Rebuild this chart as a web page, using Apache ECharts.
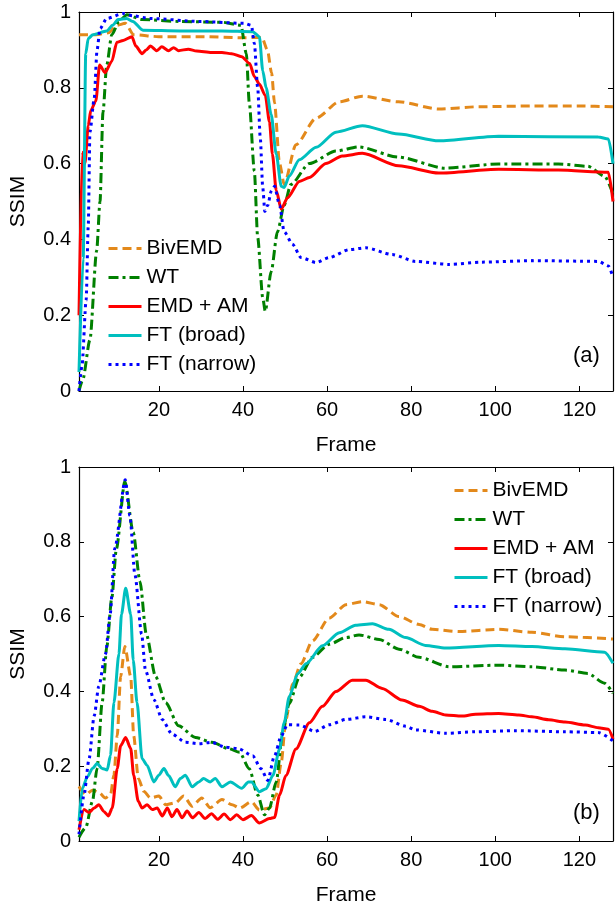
<!DOCTYPE html>
<html>
<head>
<meta charset="utf-8">
<script src="https://cdn.jsdelivr.net/npm/echarts@6/dist/echarts.min.js"></script>
<style>
  html, body { margin: 0; padding: 0; background: #fff; }
  #chart { width: 615px; height: 907px; }
</style>
</head>
<body>
<div id="chart"></div>
<script>
// ---- data, panel (a) ----
const seriesNames = ['BivEMD', 'WT', 'EMD + AM', 'FT (broad)', 'FT (narrow)']
const frameTicks = [20, 40, 60, 80, 100, 120]

const aBivFrames = [1, 5, 8, 10, 12, 14, 20, 30, 40, 44.5, 45.8, 46.8, 47.5, 48.7, 49.8, 52.6, 57.4, 62.9, 68.4, 77, 86.6, 96, 108.7, 120, 128]
const aBivSsim = [0.94, 0.94, 0.945, 0.965, 0.97, 0.94, 0.935, 0.935, 0.932, 0.933, 0.9, 0.84, 0.76, 0.6, 0.545, 0.65, 0.72, 0.763, 0.778, 0.763, 0.744, 0.75, 0.752, 0.752, 0.75]

const aWtFrames = [1, 1.9, 3.6, 5.2, 6, 6.7, 7.6, 8.8, 10.5, 12.4, 16, 25, 35, 39.5, 40.8, 41.5, 42.7, 43.5, 44.7, 45.3, 46.7, 48.2, 49.8, 51.4, 55.8, 62.1, 67.5, 77, 88, 100.8, 115, 122, 126, 128]
const aWtSsim = [0, 0.03, 0.135, 0.37, 0.5, 0.735, 0.86, 0.94, 0.975, 0.993, 0.98, 0.975, 0.973, 0.965, 0.89, 0.76, 0.58, 0.405, 0.246, 0.21, 0.315, 0.42, 0.49, 0.545, 0.6, 0.633, 0.644, 0.617, 0.588, 0.599, 0.599, 0.593, 0.567, 0.52]

const aEmdFrames = [1, 1.8, 2.4, 3.2, 3.8, 5, 5.9, 7.2, 8.8, 10, 11.5, 13.6, 14.5, 16, 17, 18, 19.5, 20.7, 22.3, 23.5, 24.7, 27, 29, 32.5, 35, 37.3, 39.7, 41.6, 42.7, 43.9, 45.3, 46.3, 47, 47.9, 49.1, 50.6, 53.4, 55.8, 59.7, 63.6, 68.4, 77, 86.6, 100.8, 115, 126.9, 128]
const aEmdSsim = [0.2, 0.63, 0.6, 0.7, 0.74, 0.765, 0.86, 0.84, 0.87, 0.92, 0.925, 0.935, 0.91, 0.89, 0.9, 0.91, 0.898, 0.908, 0.898, 0.906, 0.898, 0.902, 0.897, 0.893, 0.893, 0.89, 0.882, 0.864, 0.83, 0.81, 0.78, 0.71, 0.625, 0.53, 0.48, 0.51, 0.553, 0.563, 0.6, 0.62, 0.627, 0.594, 0.575, 0.585, 0.583, 0.577, 0.5]

const aBroadFrames = [1, 2, 2.6, 3.2, 4.3, 7.6, 9, 10.3, 12.3, 13.8, 16.2, 25, 35, 42.3, 43.9, 44.7, 45.5, 46.7, 47.9, 49.1, 49.8, 51, 53.4, 57.4, 62.1, 68.4, 77, 86.6, 100.8, 124.5, 126.9, 128]
const aBroadSsim = [0.05, 0.35, 0.89, 0.93, 0.94, 0.95, 0.965, 0.98, 0.983, 0.975, 0.952, 0.95, 0.95, 0.948, 0.935, 0.845, 0.8, 0.73, 0.625, 0.54, 0.537, 0.567, 0.61, 0.643, 0.683, 0.7, 0.678, 0.66, 0.672, 0.67, 0.665, 0.6]

const aNarrowFrames = [1, 1.7, 2.7, 3.2, 3.6, 4.6, 5.3, 6, 7.6, 11.5, 13.8, 17.8, 29.7, 40.4, 42, 42.7, 43.5, 44.1, 44.7, 45.2, 45.9, 46.7, 47.5, 48.7, 49.8, 51.8, 53.8, 57.4, 60.5, 65.3, 69.2, 75.5, 81, 89, 96.8, 108.7, 124.5, 126.9, 128]
const aNarrowSsim = [0, 0.065, 0.24, 0.435, 0.683, 0.77, 0.9, 0.956, 0.983, 0.996, 0.99, 0.983, 0.975, 0.97, 0.965, 0.917, 0.8, 0.67, 0.537, 0.474, 0.49, 0.527, 0.54, 0.49, 0.42, 0.387, 0.352, 0.339, 0.352, 0.373, 0.378, 0.36, 0.342, 0.334, 0.34, 0.344, 0.342, 0.33, 0.3]

// ---- data, panel (b) ----
const bBivFrames = [1, 2.6, 4.2, 5.7, 7.3, 8.5, 9.3, 10.1, 10.9, 11.9, 13.3, 14, 15.1, 16.4, 18, 20, 21.6, 23.9, 25.9, 27.9, 30.2, 32.2, 35, 37.4, 39.2, 42, 43.9, 46.3, 47.9, 49.1, 50.2, 51.8, 53.8, 56.5, 60.5, 64.5, 68.4, 72.4, 77.1, 81.9, 85, 91.4, 100.8, 108.7, 116.6, 128]
const bBivSsim = [0.146, 0.124, 0.136, 0.13, 0.115, 0.124, 0.176, 0.282, 0.44, 0.52, 0.44, 0.282, 0.168, 0.133, 0.115, 0.12, 0.097, 0.102, 0.12, 0.093, 0.115, 0.089, 0.111, 0.097, 0.088, 0.105, 0.083, 0.088, 0.123, 0.21, 0.325, 0.42, 0.474, 0.535, 0.596, 0.632, 0.64, 0.632, 0.6, 0.579, 0.566, 0.56, 0.566, 0.558, 0.546, 0.54]

const bWtFrames = [1, 2.6, 4.2, 5.3, 6.5, 7.6, 8.8, 9.9, 11.9, 13.9, 15.5, 17, 19.2, 21.6, 24.7, 28.7, 32.6, 36.6, 39.2, 41.5, 43.5, 45.1, 46.3, 47.9, 49.5, 51, 53.4, 56.5, 60.5, 64.5, 67.6, 72.4, 77.1, 81.9, 89, 100.8, 108.7, 116.6, 122, 126, 128]
const bWtSsim = [0.01, 0.036, 0.106, 0.194, 0.37, 0.518, 0.65, 0.782, 0.961, 0.825, 0.694, 0.553, 0.44, 0.37, 0.308, 0.277, 0.264, 0.247, 0.237, 0.193, 0.123, 0.07, 0.088, 0.158, 0.298, 0.368, 0.438, 0.491, 0.526, 0.544, 0.551, 0.539, 0.513, 0.491, 0.466, 0.47, 0.466, 0.457, 0.448, 0.422, 0.395]

const bEmdFrames = [1, 2.2, 3.4, 4.6, 5.7, 6.9, 8, 8.9, 10.1, 10.9, 12.1, 13.3, 14, 15.1, 16, 17.2, 18.4, 19.6, 20.8, 22, 23.1, 24.3, 25.5, 26.7, 28, 29.5, 31, 32.5, 34, 35.5, 37, 38.5, 40, 42, 43.9, 46.3, 47.5, 48.7, 50.2, 52.6, 55.8, 58.9, 62.1, 66, 69.2, 73.1, 77.8, 81.9, 85, 88.2, 92, 95.3, 100.8, 105.6, 108.7, 112.7, 116.6, 121.4, 124.5, 126.9, 128]
const bEmdSsim = [0.03, 0.084, 0.076, 0.088, 0.097, 0.079, 0.067, 0.088, 0.194, 0.255, 0.277, 0.247, 0.176, 0.106, 0.088, 0.097, 0.084, 0.088, 0.067, 0.088, 0.065, 0.084, 0.062, 0.08, 0.062, 0.076, 0.06, 0.073, 0.058, 0.072, 0.057, 0.07, 0.057, 0.068, 0.048, 0.06, 0.063, 0.123, 0.175, 0.246, 0.316, 0.36, 0.4, 0.43, 0.43, 0.408, 0.377, 0.36, 0.347, 0.337, 0.334, 0.339, 0.341, 0.337, 0.332, 0.324, 0.318, 0.31, 0.303, 0.299, 0.273]

const bBroadFrames = [1, 1.8, 3, 4.2, 5.3, 6.5, 7.7, 8.5, 9.3, 10.5, 11.1, 12.1, 13.3, 13.9, 14.8, 16, 17.2, 18.8, 20, 21.2, 22.3, 23.9, 25.1, 26.3, 27.9, 29.5, 30.6, 32.2, 33.4, 35, 37, 39.7, 41.3, 42, 43.9, 45.5, 47.1, 48.7, 49.8, 51, 53, 55, 58.9, 62.9, 66.8, 70.8, 74.7, 78.7, 83.4, 88.2, 100.8, 108.7, 116.6, 126, 128]
const bBroadSsim = [0.053, 0.141, 0.172, 0.194, 0.207, 0.194, 0.19, 0.229, 0.37, 0.5, 0.606, 0.676, 0.606, 0.483, 0.37, 0.22, 0.202, 0.158, 0.176, 0.194, 0.175, 0.145, 0.167, 0.176, 0.145, 0.158, 0.167, 0.158, 0.167, 0.145, 0.158, 0.141, 0.158, 0.158, 0.132, 0.14, 0.175, 0.246, 0.316, 0.386, 0.447, 0.474, 0.522, 0.557, 0.577, 0.581, 0.566, 0.544, 0.523, 0.516, 0.523, 0.52, 0.514, 0.505, 0.475]

const bNarrowFrames = [1, 2.2, 3.4, 4.6, 5.7, 7.3, 8.4, 9.5, 12, 13.1, 14.3, 15.9, 16.8, 18.8, 20.8, 23.1, 26.3, 29.5, 32.6, 35.8, 38.9, 42.3, 44.3, 45.9, 47.5, 49.1, 50.6, 53.4, 57.1, 60.5, 64.5, 69.2, 74, 78.7, 81, 88.2, 95.3, 104.8, 116.6, 124.5, 128]
const bNarrowSsim = [0.018, 0.124, 0.22, 0.334, 0.413, 0.5, 0.606, 0.782, 0.966, 0.87, 0.712, 0.553, 0.457, 0.378, 0.325, 0.286, 0.264, 0.26, 0.264, 0.251, 0.247, 0.228, 0.193, 0.162, 0.228, 0.281, 0.311, 0.31, 0.293, 0.311, 0.325, 0.332, 0.325, 0.307, 0.297, 0.288, 0.292, 0.295, 0.292, 0.29, 0.268]

// ---- styles ----
const FONT = '"Liberation Sans", Arial, Helvetica, sans-serif'
const lineStyles = [
    { color: '#e3891b', width: 3, type: [9, 5] },
    { color: '#008000', width: 3, type: [10, 4, 3, 4] },
    { color: '#ff0000', width: 3, type: 'solid' },
    { color: '#00bfbf', width: 3, type: 'solid' },
    { color: '#0000ff', width: 3, type: [3, 4] }
]
const panelA = [[aBivFrames, aBivSsim], [aWtFrames, aWtSsim], [aEmdFrames, aEmdSsim], [aBroadFrames, aBroadSsim], [aNarrowFrames, aNarrowSsim]]
const panelB = [[bBivFrames, bBivSsim], [bWtFrames, bWtSsim], [bEmdFrames, bEmdSsim], [bBroadFrames, bBroadSsim], [bNarrowFrames, bNarrowSsim]]

function pairs(frames, vals) {
    return frames.map((f, i) => [f, vals[i]])
}

function makeSeries(panel, axisIdx) {
    return panel.map((p, i) => ({
        name: seriesNames[i],
        type: 'line',
        xAxisIndex: axisIdx,
        yAxisIndex: axisIdx,
        data: pairs(p[0], p[1]),
        showSymbol: false,
        symbol: 'none',
        smooth: 0.25,
        smoothMonotone: 'x',
        lineStyle: lineStyles[i],
        itemStyle: { color: lineStyles[i].color },
        z: 2 + i
    }))
}

function xAxisFor(grid, main) {
    return {
        type: 'value',
        gridIndex: grid,
        position: main ? 'bottom' : 'top',
        min: 1,
        max: 128,
        name: main ? 'Frame' : '',
        nameLocation: 'middle',
        nameGap: 44,
        nameTextStyle: { fontFamily: FONT, fontSize: 21, color: '#000' },
        axisLine: { show: true, onZero: false, lineStyle: { color: '#000', width: 1.2 } },
        axisTick: { show: true, inside: true, length: 5, customValues: frameTicks, lineStyle: { color: '#000' } },
        axisLabel: { show: main, customValues: frameTicks, margin: 9, fontFamily: FONT, fontSize: 20, color: '#000' },
        splitLine: { show: false }
    }
}

function yAxisFor(grid, main) {
    return {
        type: 'value',
        gridIndex: grid,
        position: main ? 'left' : 'right',
        min: 0,
        max: 1,
        interval: 0.2,
        name: main ? 'SSIM' : '',
        nameLocation: 'middle',
        nameGap: 50,
        nameRotate: 90,
        nameTextStyle: { fontFamily: FONT, fontSize: 21, color: '#000' },
        axisLine: { show: true, onZero: false, lineStyle: { color: '#000', width: 1.2 } },
        axisTick: { show: true, inside: true, length: 5, lineStyle: { color: '#000' } },
        axisLabel: { show: main, margin: 8, fontFamily: FONT, fontSize: 20, color: '#000' },
        splitLine: { show: false }
    }
}

// legend shows only the line sample, no marker
function legendAt(left, top) {
    return {
        orient: 'vertical',
        left: left,
        top: top,
        padding: 0,
        itemWidth: 33,
        itemHeight: 14,
        itemGap: 8,
        selectedMode: false,
        itemStyle: { opacity: 0 },
        lineStyle: { width: 3 },
        data: seriesNames,
        textStyle: { fontFamily: FONT, fontSize: 21, lineHeight: 21, color: '#000' }
    }
}

const chart = echarts.init(document.getElementById('chart'), null, { renderer: 'canvas' })
chart.setOption({
    animation: false,
    backgroundColor: '#fff',
    grid: [
        { left: 79, top: 12, width: 534, height: 379 },
        { left: 79, top: 467, width: 534, height: 380 }
    ],
    xAxis: [xAxisFor(0, true), xAxisFor(1, true), xAxisFor(0, false), xAxisFor(1, false)],
    yAxis: [yAxisFor(0, true), yAxisFor(1, true), yAxisFor(0, false), yAxisFor(1, false)],
    legend: [legendAt(107, 238), legendAt(453, 480)],
    graphic: [
        { type: 'text', left: 573, top: 345, style: { text: '(a)', font: '22px ' + FONT, fill: '#000' } },
        { type: 'text', left: 573, top: 802, style: { text: '(b)', font: '22px ' + FONT, fill: '#000' } }
    ],
    series: makeSeries(panelA, 0).concat(makeSeries(panelB, 1))
})
</script>
</body>
</html>
